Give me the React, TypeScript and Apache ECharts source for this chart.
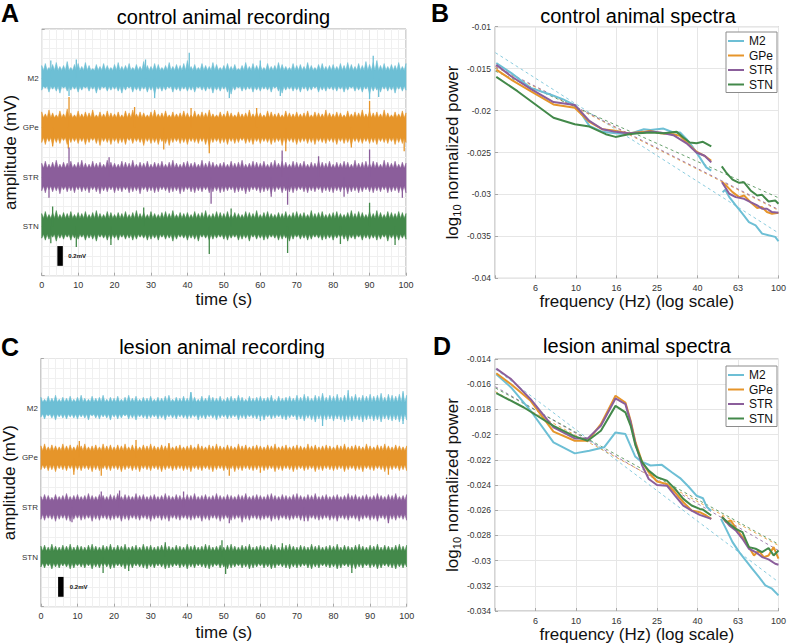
import React, { useEffect, useRef } from 'react';
import * as echarts from 'echarts';

// ---------------- shared ----------------
const traceNames = ['M2', 'GPe', 'STR', 'STN'];
const traceColors = ['#6dbfd5', '#e6952a', '#8b5e9b', '#43894a'];
const traceOffsetsMv = [2.0, 1.5, 1.0, 0.5];
const envelopeStepS = 1; // envelope tips every 1 s (values in 0.01 mV)

// ---------------- A: control recording ----------------
// solid core half-width of each trace (0.01 mV)
const aCore = [8, 10, 9, 8];
const aM2Hi = [13,15,11,14,16,12,13,17,11,14, 15,12,16,13,10,14,12,15,13,11, 14,16,12,13,15,11,14,12,17,13, 12,15,14,11,13,16,12,14,13,15, 18,12,14,11,15,13,12,16,14,11, 13,15,12,14,10,13,16,12,15,13, 14,11,15,12,13,16,14,12,11,15, 13,14,12,16,13,11,14,15,12,13, 14,12,15,13,16,14,12,15,13,17, 14,16,18,13,15,12,14,13,16,12, 15];
const aM2Lo = [-12,-10,-14,-11,-13,-15,-10,-13,-12,-11, -14,-12,-10,-13,-11,-15,-12,-10,-13,-12, -11,-13,-15,-12,-10,-14,-12,-13,-11,-14, -12,-16,-11,-13,-12,-10,-14,-12,-13,-11, -13,-12,-14,-10,-12,-13,-11,-15,-12,-13, -11,-14,-16,-12,-10,-13,-12,-11,-14,-12, -13,-11,-12,-14,-10,-13,-15,-12,-11,-13, -12,-14,-11,-13,-12,-10,-14,-12,-13,-11, -12,-13,-11,-14,-12,-10,-13,-12,-14,-11, -16,-13,-12,-14,-11,-13,-12,-15,-11,-13, -12];
const aGPeHi = [16,14,18,15,13,17,14,19,15,13, 17,14,16,15,18,13,16,14,17,15, 14,16,13,17,15,18,14,16,15,13, 16,18,14,15,17,13,16,14,15,17, 15,13,17,14,16,15,18,14,13,16, 14,17,15,13,16,14,15,18,14,16, 15,13,17,16,14,15,13,17,15,14, 16,14,15,17,13,16,15,14,18,15, 14,16,15,13,17,14,16,15,18,14, 17,15,16,14,18,15,13,16,14,17, 15];
const aGPeLo = [-15,-17,-14,-18,-15,-16,-13,-17,-15,-14, -16,-14,-17,-15,-13,-16,-18,-14,-15,-17, -14,-16,-15,-17,-13,-16,-14,-15,-18,-14, -16,-15,-17,-14,-16,-18,-15,-14,-16,-15, -17,-14,-15,-16,-14,-17,-19,-15,-14,-16, -15,-17,-14,-16,-15,-13,-16,-15,-17,-14, -16,-14,-15,-17,-15,-14,-18,-16,-14,-15, -17,-15,-14,-16,-15,-17,-14,-15,-16,-14, -15,-17,-14,-16,-15,-18,-14,-15,-16,-14, -16,-15,-17,-14,-15,-16,-14,-17,-15,-16, -15];
const aSTRHi = [14,16,13,15,17,13,15,14,16,13, 15,17,14,13,16,14,15,13,17,15, 14,13,16,15,14,17,13,15,14,16, 13,15,14,16,13,15,17,14,13,15, 16,14,15,13,17,14,16,15,13,14, 15,13,16,14,15,17,13,14,16,15, 14,16,13,15,17,14,16,15,13,16, 15,14,16,13,15,14,17,15,14,16, 13,15,14,16,15,13,17,14,15,16, 14,16,15,13,17,15,14,16,13,15, 14];
const aSTRLo = [-14,-16,-13,-15,-14,-17,-13,-15,-14,-16, -13,-15,-14,-16,-13,-15,-17,-14,-15,-13, -16,-14,-15,-13,-16,-15,-14,-17,-13,-15, -14,-16,-15,-13,-14,-16,-15,-14,-17,-15, -13,-15,-16,-14,-15,-13,-16,-15,-14,-16, -15,-14,-13,-16,-15,-14,-17,-15,-13,-14, -16,-15,-14,-17,-15,-13,-16,-14,-15,-16, -14,-13,-15,-16,-14,-15,-13,-16,-14,-15, -16,-14,-15,-13,-17,-15,-14,-16,-15,-13, -15,-16,-14,-15,-13,-16,-15,-14,-16,-15, -16];
const aSTNHi = [13,15,12,14,16,12,14,13,15,12, 14,13,15,12,14,16,13,12,15,14, 12,14,13,15,12,14,16,13,14,12, 15,13,12,14,15,13,16,12,14,13, 14,12,15,13,14,16,12,13,15,14, 13,15,12,14,13,12,15,14,13,16, 12,14,15,13,12,14,13,15,12,14, 15,13,14,12,16,13,14,15,12,13, 14,15,13,12,14,16,13,15,14,12, 15,13,16,14,12,15,14,13,15,14, 13];
const aSTNLo = [-12,-14,-13,-11,-15,-12,-13,-11,-14,-12, -13,-11,-14,-12,-13,-15,-11,-12,-14,-13, -12,-14,-11,-13,-12,-14,-13,-11,-12,-14, -13,-12,-14,-11,-13,-12,-15,-13,-11,-12, -14,-12,-13,-15,-11,-12,-14,-13,-12,-11, -13,-14,-12,-11,-14,-13,-12,-15,-11,-13, -12,-14,-13,-11,-12,-14,-13,-12,-15,-13, -11,-13,-12,-14,-13,-11,-12,-14,-13,-12, -14,-12,-11,-13,-15,-12,-13,-11,-14,-12, -13,-12,-14,-13,-11,-15,-12,-13,-14,-12, -13];
// spikes: [time s, deflection 0.01 mV]
const aM2Spk = [[40.5,26],[91,23],[2.5,18],[9.5,19],[28.5,19],[60,18],[7.5,-18],[31,-20],[51.5,-20],[65.5,-18],[90,-21],[92.5,-19]];
const aGPeSpk = [[7.5,31],[90,27],[25.5,21],[41,20],[59,20],[7.3,-21],[33.5,-22],[46,-26],[67,-24],[99.5,-24],[3,-19],[85,-20]];
const aSTRSpk = [[7.5,30],[66,27],[90,28],[18.5,20],[76,21],[2,-21],[46.5,-27],[63,-20],[67.5,-28],[83,-20],[99,-21]];
const aSTNSpk = [[90,24],[3,20],[28,19],[52,18],[2.5,-17],[9.5,-21],[19,-19],[46,-28],[67.5,-27],[82,-18],[97,-19]];

// ---------------- C: lesion recording ----------------
const cCore = [6, 7, 7, 6];
const cM2Hi = [11,9,12,10,13,9,11,10,12,9, 11,13,10,9,12,10,11,13,9,11, 10,12,9,11,13,10,12,9,11,10, 12,9,11,10,12,13,9,11,10,12, 10,16,11,9,12,10,13,11,10,12, 9,11,12,10,13,11,9,12,10,11, 12,10,11,13,9,12,10,11,12,10, 13,11,14,12,10,13,12,15,11,13, 12,14,11,13,15,12,14,11,13,12, 14,12,13,15,11,14,13,12,14,15, 13];
const cM2Lo = [-9,-11,-8,-10,-12,-9,-10,-11,-9,-10, -11,-9,-10,-12,-8,-10,-11,-9,-10,-12, -9,-11,-10,-8,-11,-10,-12,-9,-10,-11, -10,-9,-11,-10,-12,-9,-10,-11,-9,-10, -11,-10,-9,-12,-10,-11,-9,-10,-12,-10, -9,-11,-10,-9,-12,-10,-11,-9,-10,-11, -10,-12,-9,-11,-10,-9,-11,-12,-10,-9, -12,-11,-13,-10,-12,-14,-11,-13,-12,-11, -13,-11,-12,-14,-12,-13,-11,-12,-14,-12, -11,-13,-12,-14,-11,-12,-13,-12,-14,-13, -12];
const cGPeHi = [12,14,11,13,12,11,14,12,13,11, 13,12,14,11,12,13,11,14,12,13, 11,13,12,14,11,13,12,11,13,12, 14,12,11,13,12,14,11,12,13,11, 12,13,11,14,12,11,13,12,14,12, 11,13,12,11,14,12,13,11,12,13, 12,11,13,12,14,11,12,13,11,12, 13,12,11,14,12,13,11,12,13,12, 11,13,12,14,11,12,13,12,11,14, 12,11,13,12,14,12,11,13,12,11, 12];
const cGPeLo = [-12,-11,-13,-12,-14,-11,-12,-13,-11,-14, -12,-13,-11,-12,-14,-12,-13,-11,-12,-13, -11,-12,-14,-12,-11,-13,-12,-14,-11,-12, -13,-11,-12,-14,-12,-11,-13,-12,-11,-13, -12,-14,-11,-12,-13,-11,-12,-14,-12,-11, -13,-12,-11,-14,-12,-13,-11,-12,-13,-12, -11,-13,-12,-11,-14,-12,-13,-11,-12,-14, -12,-11,-13,-12,-11,-14,-12,-13,-11,-12, -13,-12,-11,-14,-12,-11,-13,-12,-14,-11, -12,-13,-11,-12,-14,-13,-12,-11,-13,-12, -13];
const cSTRHi = [11,13,12,10,13,11,12,14,11,12, 13,11,12,14,12,11,13,12,11,13, 12,14,11,13,12,11,14,12,13,11, 12,13,11,12,14,12,11,13,12,11, 13,12,14,11,12,13,11,12,14,12, 11,13,12,11,13,12,14,11,12,13, 12,11,13,14,12,11,13,12,11,13, 14,12,11,13,12,14,11,12,13,11, 12,13,11,12,14,12,13,11,12,13, 11,12,14,12,11,13,12,14,11,12, 13];
const cSTRLo = [-12,-13,-11,-12,-14,-12,-11,-13,-14,-12, -11,-13,-12,-11,-14,-12,-13,-11,-12,-13, -12,-11,-14,-12,-13,-11,-12,-13,-11,-12, -14,-12,-11,-13,-12,-14,-11,-12,-13,-11, -12,-13,-12,-11,-14,-12,-13,-11,-12,-14, -12,-11,-13,-12,-11,-15,-12,-13,-11,-12, -13,-12,-11,-14,-12,-13,-11,-12,-13,-12, -11,-13,-12,-14,-11,-12,-13,-12,-11,-13, -12,-14,-11,-12,-13,-11,-12,-14,-12,-11, -13,-12,-14,-11,-12,-15,-12,-13,-11,-12, -13];
const cSTNHi = [11,12,10,13,11,10,12,11,13,10, 12,11,10,12,13,11,10,12,11,13, 10,12,11,13,10,11,12,10,13,11, 12,10,11,12,13,11,10,12,11,10, 13,11,12,10,11,13,12,10,11,12, 10,12,13,11,10,12,11,13,10,11, 12,11,10,13,12,10,11,12,13,11, 10,12,11,10,13,11,12,10,11,12, 11,13,10,12,11,10,12,13,11,10, 12,11,13,10,12,11,10,12,13,11, 12];
const cSTNLo = [-10,-11,-9,-12,-10,-11,-9,-10,-12,-11, -9,-10,-11,-9,-12,-10,-11,-9,-10,-12, -11,-9,-10,-12,-10,-11,-9,-10,-11,-12, -10,-11,-9,-10,-12,-11,-10,-9,-11,-10, -12,-10,-11,-9,-10,-11,-12,-10,-9,-11, -10,-12,-11,-10,-9,-11,-10,-12,-11,-10, -9,-11,-10,-12,-11,-9,-10,-11,-12,-10, -11,-10,-9,-11,-12,-10,-11,-9,-10,-11, -10,-12,-11,-9,-10,-11,-12,-10,-11,-9, -11,-10,-12,-11,-9,-10,-11,-12,-10,-11, -10];
const cM2Spk = [[41,16],[84,18],[99,17],[77,-18],[99,-16],[60,-13]];
const cGPeSpk = [[10.5,17],[26,18],[35,15],[9,-17],[16.5,-18],[51.5,-18],[95,-17],[60,-15]];
const cSTRSpk = [[21.5,17],[39,16],[16.5,16],[8.5,-15],[51.5,-16],[95,-16],[72,-14]];
const cSTNSpk = [[49.5,17],[34,15],[66,14],[17,-16],[50.5,-17],[85,-16],[24,-14]];

// scale bars: [t0, t1, mv0, mv1, labelT]
const aScaleBar = [4.3, 5.8, 0.1, 0.3, 7.3];
const cScaleBar = [4.7, 6.2, 0.1, 0.3, 7.9];

// ---------------- B: control spectra [Hz, log10 power] ----------------
const notchHz = 50;
const bM2Low = [[4.04,-0.01433],[4.78,-0.01551],[5.97,-0.01729],[7.46,-0.01808],[8.65,-0.01867],[9.86,-0.01934],[10.42,-0.02005],[11.64,-0.02183],[13.52,-0.02254],[15.67,-0.0227],[18.2,-0.02282],[21.63,-0.02223],[23.33,-0.02231],[27.04,-0.02215],[30.27,-0.02262],[32.66,-0.02262],[35.16,-0.02341],[37.84,-0.0244],[40.83,-0.02558],[43.95,-0.02677],[46.56,-0.02716]];
const bM2High = [[52.97,-0.02973],[54.58,-0.02945],[57.15,-0.03032],[61.52,-0.03131],[66.37,-0.0323],[71.45,-0.03329],[77.09,-0.03368],[82.99,-0.03467],[89.33,-0.03487],[96.38,-0.03506],[100,-0.03558]];
const bGPeLow = [[4.04,-0.01512],[4.78,-0.0163],[5.97,-0.01769],[7.74,-0.01927],[9.86,-0.01966],[11.64,-0.02136],[13.52,-0.02223],[15.67,-0.02242],[18.2,-0.0227],[21.63,-0.02254],[23.33,-0.02242],[26.06,-0.0227],[30.27,-0.02282],[32.66,-0.02302],[35.16,-0.02381],[39.36,-0.02491],[43.15,-0.02539],[46.56,-0.02598]];
const bGPeHigh = [[52.6,-0.02847],[55.08,-0.02894],[59.29,-0.02973],[63.97,-0.03032],[67.61,-0.03013],[72.78,-0.03092],[78.52,-0.03163],[82.99,-0.03151],[87.7,-0.0321],[92.9,-0.0323],[100,-0.03218]];
const bSTRLow = [[4.04,-0.01453],[4.78,-0.01591],[5.97,-0.01741],[7.74,-0.01899],[9.86,-0.01934],[11.64,-0.02124],[13.52,-0.02223],[15.67,-0.02254],[18.2,-0.0227],[21.63,-0.02262],[23.33,-0.0225],[26.06,-0.02262],[30.27,-0.02294],[35.16,-0.0239],[39.36,-0.025],[43.15,-0.02539],[46.56,-0.02618]];
const bSTRHigh = [[52.6,-0.02855],[57.15,-0.02992],[61.52,-0.03032],[67.61,-0.03052],[72.78,-0.03092],[78.52,-0.0313],[82.99,-0.03171],[87.7,-0.03171],[92.9,-0.0321],[100,-0.03218]];
const bSTNLow = [[4.04,-0.01599],[5.14,-0.01769],[7.74,-0.02085],[9.86,-0.02164],[11.64,-0.02191],[14.03,-0.02282],[15.67,-0.02314],[18.2,-0.02282],[20.32,-0.0227],[23.33,-0.02262],[27.04,-0.0227],[31.41,-0.02254],[33.88,-0.02321],[36.48,-0.02381],[39.36,-0.02389],[42.36,-0.02373],[46.56,-0.02428]];
const bSTNHigh = [[52.48,-0.02665],[55.08,-0.02736],[59.29,-0.02823],[63.97,-0.02862],[67.61,-0.02855],[72.78,-0.02953],[78.52,-0.03013],[82.99,-0.03005],[89.33,-0.03084],[96.38,-0.03072],[100,-0.03111]];
const fitHz = [4, 100];
const bFitStart = [-0.0131, -0.0148, -0.0147, -0.0153];
const bFitEnd = [-0.0346, -0.0319, -0.0318, -0.0304];

// ---------------- D: lesion spectra ----------------
const dM2Low = [[4.04,-0.01521],[4.78,-0.01626],[5.97,-0.01811],[7.74,-0.02062],[9.86,-0.02149],[11.64,-0.02128],[13.77,-0.02101],[15.67,-0.01983],[17.54,-0.01996],[19.59,-0.02173],[20.84,-0.0221],[23.33,-0.02245],[26.55,-0.0224],[29.72,-0.02299],[32.66,-0.02345],[35.81,-0.0241],[39.36,-0.02485],[42.36,-0.02505],[44.26,-0.02575],[46.56,-0.02605]];
const dM2High = [[52.0,-0.02669],[55.08,-0.02748],[59.29,-0.02853],[63.97,-0.02933],[68.87,-0.02999],[74.13,-0.03064],[79.98,-0.0313],[86.1,-0.03196],[92.9,-0.03223],[100,-0.03276]];
const dGPeLow = [[4.04,-0.01513],[4.78,-0.016],[5.97,-0.01732],[7.74,-0.01977],[9.86,-0.02049],[11.43,-0.02049],[13.27,-0.01917],[15.67,-0.01692],[17.54,-0.01745],[18.62,-0.0189],[19.68,-0.02062],[21.23,-0.0222],[22.86,-0.02299],[25.12,-0.02373],[28.12,-0.02392],[30.83,-0.02458],[33.88,-0.02537],[37.24,-0.02603],[40.83,-0.02616],[43.95,-0.02642],[46.56,-0.02669]];
const dGPeHigh = [[52.6,-0.02647],[55.08,-0.02695],[58.21,-0.02682],[61.52,-0.02743],[66.37,-0.02814],[71.45,-0.02893],[75.68,-0.02959],[79.98,-0.0292],[84.53,-0.02973],[89.33,-0.0296],[94.62,-0.02893],[100,-0.02985]];
const dSTRLow = [[4.04,-0.01476],[4.78,-0.0156],[5.97,-0.01719],[7.74,-0.01943],[9.86,-0.0203],[11.43,-0.0203],[13.27,-0.0193],[15.67,-0.01713],[17.54,-0.01758],[18.62,-0.01903],[19.68,-0.02075],[21.23,-0.02246],[22.86,-0.02352],[25.12,-0.024],[28.12,-0.02405],[30.83,-0.02484],[33.88,-0.02563],[37.24,-0.02603],[40.83,-0.02637],[43.95,-0.02655],[46.56,-0.02669]];
const dSTRHigh = [[52.6,-0.02655],[57.15,-0.02721],[61.52,-0.02761],[66.37,-0.02827],[71.45,-0.02906],[77.09,-0.02932],[82.99,-0.02972],[89.33,-0.0299],[96.38,-0.03025],[100,-0.03033]];
const dSTNLow = [[4.04,-0.01671],[5.53,-0.01785],[7.74,-0.0193],[9.86,-0.02014],[11.43,-0.02049],[13.27,-0.01969],[15.67,-0.01772],[17.54,-0.01824],[18.62,-0.0193],[19.68,-0.02088],[21.23,-0.0222],[22.86,-0.02286],[25.12,-0.02339],[28.12,-0.02365],[30.83,-0.02431],[33.88,-0.0251],[37.24,-0.02563],[40.83,-0.0259],[42.36,-0.02595],[46.56,-0.02642]];
const dSTNHigh = [[52.6,-0.02655],[57.15,-0.02708],[61.52,-0.02748],[66.37,-0.02774],[71.45,-0.02893],[77.09,-0.02906],[82.99,-0.02932],[89.33,-0.029],[94.62,-0.02959],[100,-0.0292]];
const dFitStart = [-0.0148, -0.0166, -0.0162, -0.0163];
const dFitEnd = [-0.0317, -0.0288, -0.0292, -0.0287];

// ---------------- helpers ----------------
const FONT = '"Liberation Sans", Arial, Helvetica, sans-serif';
const BOX = '#a8a8a8';
const GRIDC = '#e6e6e6';
const MINORC = '#f0f0f0';

function bandSeries(axis: number, hi: number[], lo: number[], core: number[], k: number) {
  const off = traceOffsetsMv[k];
  const coreMv = core[k] / 100;
  const rows = hi.map((h, i) => [i * envelopeStepS, off + h / 100, off + lo[i] / 100]);
  const color = traceColors[k];
  return {
    type: 'custom', name: 'trace ' + axis + ' ' + traceNames[k], xAxisIndex: axis, yAxisIndex: axis,
    data: rows, clip: true, silent: true, z: 2,
    renderItem: (params: any, api: any) => {
      if (params.dataIndexInside !== 0) return null;
      const top: number[][] = [];
      const bot: number[][] = [];
      const n = rows.length;
      for (let j = 0; j < n; j++) {
        const t = api.value(0, j);
        top.push(api.coord([t, api.value(1, j)]));
        bot.push(api.coord([t, api.value(2, j)]));
        if (j < n - 1) {
          const tm = t + envelopeStepS / 2;
          top.push(api.coord([tm, off + coreMv]));
          bot.push(api.coord([tm, off - coreMv]));
        }
      }
      return {
        type: 'polygon',
        shape: { points: top.concat(bot.reverse()) },
        style: { fill: color, stroke: color, lineWidth: 0.6, lineJoin: 'miter' },
      };
    },
  };
}

function spikeSeries(axis: number, spikes: number[][], k: number) {
  const off = traceOffsetsMv[k];
  const color = traceColors[k];
  return {
    type: 'custom', name: 'spikes ' + axis + ' ' + traceNames[k], xAxisIndex: axis, yAxisIndex: axis,
    data: spikes.map(([t, v]) => [t, off, off + v / 100]), clip: true, silent: true, z: 3,
    renderItem: (_p: any, api: any) => {
      const a = api.coord([api.value(0), api.value(1)]);
      const b = api.coord([api.value(0), api.value(2)]);
      return { type: 'line', shape: { x1: a[0], y1: a[1], x2: b[0], y2: b[1] }, style: { stroke: color, lineWidth: 1.3 } };
    },
  };
}

function scaleBarSeries(axis: number, bar: number[]) {
  return {
    type: 'custom', name: 'scale ' + axis, xAxisIndex: axis, yAxisIndex: axis, data: [bar], silent: true, z: 4,
    renderItem: (_p: any, api: any) => {
      const p0 = api.coord([api.value(0), api.value(3)]);
      const p1 = api.coord([api.value(1), api.value(2)]);
      const pl = api.coord([api.value(4), (api.value(2) + api.value(3)) / 2]);
      return {
        type: 'group',
        children: [
          { type: 'rect', shape: { x: p0[0], y: p0[1], width: p1[0] - p0[0], height: p1[1] - p0[1] }, style: { fill: '#000' } },
          { type: 'text', x: pl[0], y: pl[1], style: { text: '0.2mV', fontSize: 6, fontWeight: 'bold', fill: '#111', align: 'left', verticalAlign: 'middle', fontFamily: FONT } },
        ],
      };
    },
  };
}

function specSeries(axis: number, low: number[][], high: number[][], k: number) {
  const data = low.map(([f, v]) => [Math.log10(f), v])
    .concat([[Math.log10(notchHz), null as any]])
    .concat(high.map(([f, v]) => [Math.log10(f), v]));
  return {
    type: 'line', name: traceNames[k], xAxisIndex: axis, yAxisIndex: axis, data,
    symbol: 'none', connectNulls: false, z: 3,
    lineStyle: { width: 2, color: traceColors[k] }, itemStyle: { color: traceColors[k] },
  };
}

function fitSeries(axis: number, start: number, end: number, k: number) {
  return {
    type: 'line', name: 'fit ' + axis + ' ' + traceNames[k], xAxisIndex: axis, yAxisIndex: axis,
    data: [[Math.log10(fitHz[0]), start], [Math.log10(fitHz[1]), end]],
    symbol: 'none', silent: true, z: 2,
    lineStyle: { width: 0.8, type: [3, 3], color: traceColors[k] },
  };
}

function timeX(gridIndex: number, gap: number) {
  return {
    type: 'value', gridIndex, min: 0, max: 100, interval: 10,
    axisLine: { show: false },
    axisTick: { show: true, inside: true, length: 3, lineStyle: { color: BOX } },
    minorTick: { show: false, splitNumber: 5 },
    axisLabel: { fontSize: 9, color: '#333', margin: 5, fontFamily: FONT },
    splitLine: { show: true, lineStyle: { color: GRIDC, width: 1 } },
    minorSplitLine: { show: true, lineStyle: { color: MINORC, width: 1 } },
    name: 'time (s)', nameLocation: 'middle', nameGap: gap,
    nameTextStyle: { fontSize: 17, color: '#111', fontFamily: FONT },
  };
}

function ampY(gridIndex: number, gap: number) {
  return {
    type: 'value', gridIndex, min: 0, max: 2.5, interval: 0.5,
    axisLine: { show: false },
    axisTick: { show: true, inside: true, length: 3, lineStyle: { color: BOX } },
    minorTick: { show: false, splitNumber: 5 },
    axisLabel: {
      fontSize: 8, color: '#333', margin: 3, fontFamily: FONT,
      formatter: (v: number) => {
        const i = traceOffsetsMv.findIndex((o) => Math.abs(o - v) < 1e-6);
        return i >= 0 ? traceNames[i] : '';
      },
    },
    splitLine: { show: true, lineStyle: { color: GRIDC, width: 1 } },
    minorSplitLine: { show: true, lineStyle: { color: MINORC, width: 1 } },
    name: 'amplitude (mV)', nameLocation: 'middle', nameGap: gap,
    nameTextStyle: { fontSize: 17, color: '#111', fontFamily: FONT },
  };
}

function freqX(gridIndex: number, gap: number) {
  return {
    type: 'value', gridIndex, min: 0.6, max: 2, interval: 0.2,
    axisLine: { show: false },
    axisTick: { show: true, inside: true, length: 3, lineStyle: { color: BOX } },
    axisLabel: {
      fontSize: 9, color: '#333', margin: 5, fontFamily: FONT,
      formatter: (v: number) => (v < 0.7 ? '' : String(Math.round(Math.pow(10, v)))),
    },
    splitLine: { show: true, lineStyle: { color: GRIDC, width: 1 } },
    name: 'frequency (Hz) (log scale)', nameLocation: 'middle', nameGap: gap,
    nameTextStyle: { fontSize: 17, color: '#111', fontFamily: FONT },
  };
}

function powerY(gridIndex: number, min: number, max: number, interval: number, gap: number) {
  return {
    type: 'value', gridIndex, min, max, interval,
    axisLine: { show: false },
    axisTick: { show: true, inside: true, length: 3, lineStyle: { color: BOX } },
    axisLabel: {
      fontSize: 8.5, color: '#333', margin: 4, fontFamily: FONT,
      formatter: (v: number) => String(parseFloat(v.toFixed(4))),
    },
    splitLine: { show: true, lineStyle: { color: GRIDC, width: 1 } },
    name: '{a|log}{s|10}{a| normalized power}', nameLocation: 'middle', nameGap: gap,
    nameTextStyle: {
      fontSize: 17, color: '#111', fontFamily: FONT,
      rich: {
        a: { fontSize: 17, lineHeight: 21, color: '#111', fontFamily: FONT },
        s: { fontSize: 11, lineHeight: 11, verticalAlign: 'bottom', color: '#111', fontFamily: FONT },
      },
    },
  };
}

function legendAt(top: number) {
  return {
    data: traceNames, orient: 'vertical', left: 726, top,
    icon: 'rect', itemWidth: 16, itemHeight: 2, itemGap: 2.5, padding: [3, 4, 2, 2],
    borderColor: '#8c8c8c', borderWidth: 1, backgroundColor: '#fff', selectedMode: false,
    textStyle: { fontSize: 12, color: '#111', fontFamily: FONT, lineHeight: 11.5 },
  };
}

function textEl(text: string, x: number, y: number, size: number, bold: boolean, align: string) {
  return {
    type: 'text', x, y, silent: true,
    style: { text, fontSize: size, fontWeight: bold ? 'bold' : 'normal', fill: '#000', align, verticalAlign: 'middle', fontFamily: FONT },
  };
}

const gridBase = { show: true, borderColor: BOX, borderWidth: 1, backgroundColor: '#fff', containLabel: false };

const option: any = {
  animation: false,
  backgroundColor: '#fff',
  textStyle: { fontFamily: FONT },
  grid: [
    { ...gridBase, left: 41.7, top: 29, width: 364.3, height: 246.7 },
    { ...gridBase, left: 495, top: 26.7, width: 286.5, height: 251.6 },
    { ...gridBase, left: 37.7, top: 358.5, width: 369, height: 248.2 },
    { ...gridBase, left: 495, top: 359, width: 286.3, height: 252 },
  ],
  xAxis: [timeX(0, 13), freqX(1, 14), timeX(2, 17), freqX(3, 14)],
  yAxis: [ampY(0, 23), powerY(1, -0.04, -0.01, 0.005, 29), ampY(2, 22.5), powerY(3, -0.034, -0.014, 0.002, 29)],
  legend: [legendAt(32), legendAt(366)],
  graphic: [
    textEl('A', 1, 12.5, 25, true, 'left'),
    textEl('B', 431, 12.5, 25, true, 'left'),
    textEl('C', 1, 347, 25, true, 'left'),
    textEl('D', 433, 345.5, 25, true, 'left'),
    textEl('control animal recording', 223.5, 16.5, 20, false, 'center'),
    textEl('control animal spectra', 638, 15.5, 20, false, 'center'),
    textEl('lesion animal recording', 222, 346.5, 20, false, 'center'),
    textEl('lesion animal spectra', 637, 346, 20, false, 'center'),
  ],
  series: [
    bandSeries(0, aM2Hi, aM2Lo, aCore, 0), bandSeries(0, aGPeHi, aGPeLo, aCore, 1), bandSeries(0, aSTRHi, aSTRLo, aCore, 2), bandSeries(0, aSTNHi, aSTNLo, aCore, 3),
    spikeSeries(0, aM2Spk, 0), spikeSeries(0, aGPeSpk, 1), spikeSeries(0, aSTRSpk, 2), spikeSeries(0, aSTNSpk, 3),
    scaleBarSeries(0, aScaleBar),
    bandSeries(2, cM2Hi, cM2Lo, cCore, 0), bandSeries(2, cGPeHi, cGPeLo, cCore, 1), bandSeries(2, cSTRHi, cSTRLo, cCore, 2), bandSeries(2, cSTNHi, cSTNLo, cCore, 3),
    spikeSeries(2, cM2Spk, 0), spikeSeries(2, cGPeSpk, 1), spikeSeries(2, cSTRSpk, 2), spikeSeries(2, cSTNSpk, 3),
    scaleBarSeries(2, cScaleBar),
    specSeries(1, bM2Low, bM2High, 0), specSeries(1, bGPeLow, bGPeHigh, 1), specSeries(1, bSTRLow, bSTRHigh, 2), specSeries(1, bSTNLow, bSTNHigh, 3),
    fitSeries(1, bFitStart[0], bFitEnd[0], 0), fitSeries(1, bFitStart[1], bFitEnd[1], 1), fitSeries(1, bFitStart[2], bFitEnd[2], 2), fitSeries(1, bFitStart[3], bFitEnd[3], 3),
    specSeries(3, dM2Low, dM2High, 0), specSeries(3, dGPeLow, dGPeHigh, 1), specSeries(3, dSTRLow, dSTRHigh, 2), specSeries(3, dSTNLow, dSTNHigh, 3),
    fitSeries(3, dFitStart[0], dFitEnd[0], 0), fitSeries(3, dFitStart[1], dFitEnd[1], 1), fitSeries(3, dFitStart[2], dFitEnd[2], 2), fitSeries(3, dFitStart[3], dFitEnd[3], 3),
  ],
};

export default function App() {
  const ref = useRef<HTMLDivElement>(null);
  useEffect(() => {
    const chart = echarts.init(ref.current as HTMLDivElement, null, { renderer: 'svg' });
    chart.setOption(option);
    return () => chart.dispose();
  }, []);
  return (
    <div
      ref={ref}
      style={{ position: 'fixed', left: 0, top: 0, width: 789, height: 644, background: '#fff' }}
    />
  );
}
